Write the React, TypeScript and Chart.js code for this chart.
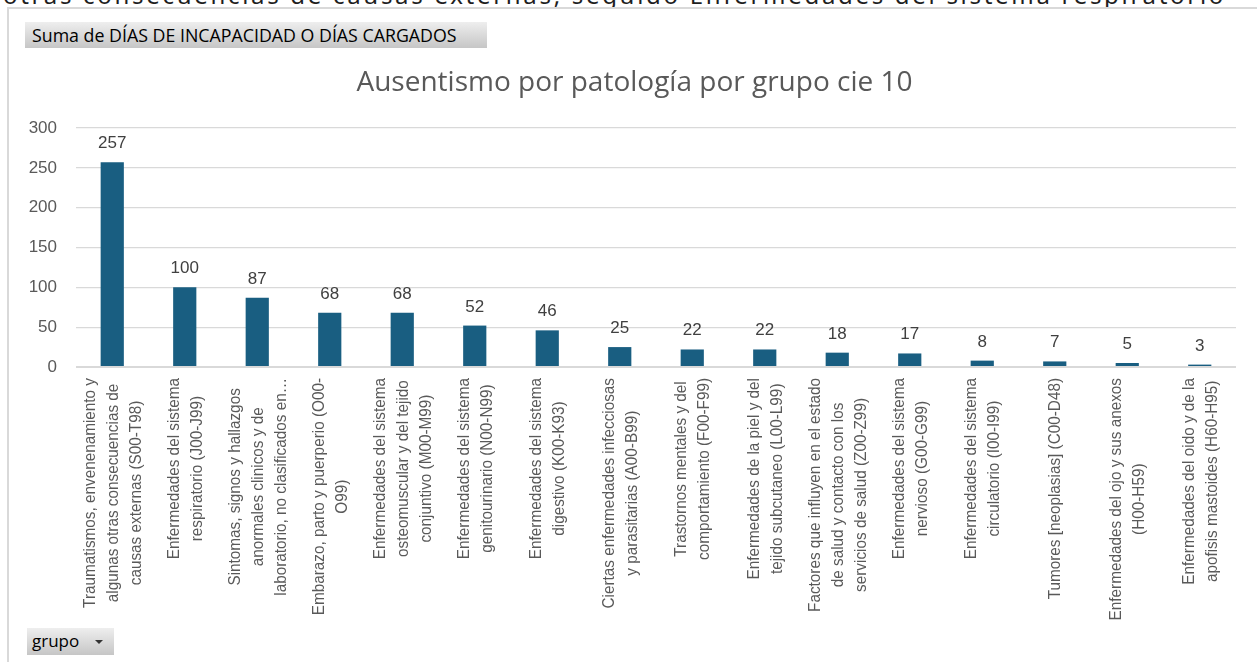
import React, { useEffect, useRef } from "react";
import { Chart, registerables } from "chart.js";

Chart.register(...registerables);

// ---------- data ----------
const categories: string[][] = [
  ["Traumatismos, envenenamiento y", "algunas otras consecuencias de", "causas externas (S00-T98)"],
  ["Enfermedades del sistema", "respiratorio (J00-J99)"],
  ["Sintomas, signos y hallazgos", "anormales clinicos y de", "laboratorio, no clasificados en…"],
  ["Embarazo, parto y puerperio (O00-", "O99)"],
  ["Enfermedades del sistema", "osteomuscular y del tejido", "conjuntivo (M00-M99)"],
  ["Enfermedades del sistema", "genitourinario (N00-N99)"],
  ["Enfermedades del sistema", "digestivo (K00-K93)"],
  ["Ciertas enfermedades infecciosas", "y parasitarias (A00-B99)"],
  ["Trastornos mentales y del", "comportamiento (F00-F99)"],
  ["Enfermedades de la piel y del", "tejido subcutaneo (L00-L99)"],
  ["Factores que influyen en el estado", "de salud y contacto con los", "servicios de salud (Z00-Z99)"],
  ["Enfermedades del sistema", "nervioso (G00-G99)"],
  ["Enfermedades del sistema", "circulatorio (I00-I99)"],
  ["Tumores [neoplasias] (C00-D48)"],
  ["Enfermedades del ojo y sus anexos", "(H00-H59)"],
  ["Enfermedades del oido y de la", "apofisis mastoides (H60-H95)"],
];
const values: number[] = [257, 100, 87, 68, 68, 52, 46, 25, 22, 22, 18, 17, 8, 7, 5, 3];
const yMin = 0;
const yMax = 300;
const yStep = 50;
const chartTitle = "Ausentismo por patología por grupo cie 10";
const fieldButtonText = "Suma de DÍAS DE INCAPACIDAD O DÍAS CARGADOS";
const axisButtonText = "grupo";
const clippedTopText =
  "otras consecuencias de causas externas, seguido Enfermedades del sistema respiratorio";

// ---------- styles ----------
const BAR_COLOR = "#195e81";
const GRID_COLOR = "#d9d9d9";
const TICK_COLOR = "#595959";
const NUM_FONT = "'Liberation Sans', Arial, sans-serif";
const LABEL_FONT = "17px 'Liberation Sans', Arial, sans-serif";
const LABEL_SQUEEZE = 0.9;
const LABEL_LINE = 23;

const titlePlugin = {
  id: "centeredTitle",
  afterDraw(chart: any) {
    const ctx = chart.ctx;
    ctx.save();
    ctx.font = "28px 'Open Sans', sans-serif";
    ctx.fillStyle = TICK_COLOR;
    ctx.textAlign = "center";
    ctx.textBaseline = "middle";
    ctx.fillText(chartTitle, 634.5, 83);
    ctx.restore();
  },
};

const valueLabels = {
  id: "valueLabels",
  afterDatasetsDraw(chart: any) {
    const ctx = chart.ctx;
    const meta = chart.getDatasetMeta(0);
    ctx.save();
    ctx.font = `17px ${NUM_FONT}`;
    ctx.fillStyle = "#404040";
    ctx.textAlign = "center";
    ctx.textBaseline = "alphabetic";
    meta.data.forEach((el: any, i: number) => {
      const v = chart.data.datasets[0].data[i];
      ctx.fillText(String(v), el.x, el.y - 14);
    });
    ctx.restore();
  },
};

const rotatedLabels = {
  id: "rotatedLabels",
  afterDraw(chart: any) {
    const scale = chart.scales.x;
    const ctx = chart.ctx;
    ctx.save();
    ctx.font = LABEL_FONT;
    ctx.fillStyle = TICK_COLOR;
    ctx.textAlign = "center";
    ctx.textBaseline = "middle";
    const top = chart.chartArea.bottom + 11;
    (chart.data.labels as string[][]).forEach((lines, i) => {
      const x = scale.getPixelForValue(i) + 1;
      const w = Math.max(...lines.map((l) => ctx.measureText(l).width)) * LABEL_SQUEEZE;
      lines.forEach((line, j) => {
        const cx = x + (j - (lines.length - 1) / 2) * LABEL_LINE;
        ctx.save();
        ctx.translate(cx, top + w / 2);
        ctx.rotate(-Math.PI / 2);
        ctx.scale(LABEL_SQUEEZE, 1);
        ctx.fillText(line, 0, 0);
        ctx.restore();
      });
    });
    ctx.restore();
  },
};

function BarChart() {
  const ref = useRef<HTMLCanvasElement | null>(null);
  useEffect(() => {
    if (!ref.current) return;
    const chart = new Chart(ref.current, {
      type: "bar",
      data: {
        labels: categories as any,
        datasets: [
          {
            data: values,
            backgroundColor: BAR_COLOR,
            barPercentage: 0.32,
            categoryPercentage: 1,
          },
        ],
      },
      options: {
        animation: false,
        responsive: true,
        maintainAspectRatio: false,
        layout: { padding: { top: 128, left: 0, right: 21, bottom: 295 } },
        plugins: {
          legend: { display: false },
          tooltip: { enabled: false },
          title: { display: false },
        },
        scales: {
          x: {
            ticks: { display: false },
            grid: { display: false },
            border: { display: false },
            afterFit: (s: any) => {
              s.height = 0;
            },
          },
          y: {
            min: yMin,
            max: yMax,
            ticks: {
              stepSize: yStep,
              color: TICK_COLOR,
              font: { family: NUM_FONT, size: 17 },
              padding: 19,
            },
            grid: {
              color: GRID_COLOR,
              lineWidth: (c: any) => (c.tick && c.tick.value === 0 ? 2 : 1.2),
              drawTicks: false,
            },
            border: { display: false },
            afterFit: (s: any) => {
              s.width = 76;
            },
          },
        },
      },
      plugins: [valueLabels, rotatedLabels, titlePlugin],
    });
    return () => chart.destroy();
  }, []);
  return (
    <div style={{ position: "absolute", left: 0, top: 0, width: 1257, height: 662 }}>
      <canvas ref={ref} />
    </div>
  );
}

export default function App() {
  return (
    <div
      style={{
        position: "absolute",
        left: 0,
        top: 0,
        width: 1257,
        height: 662,
        overflow: "hidden",
        background: "#ffffff",
      }}
    >
      <div
        style={{
          position: "absolute",
          left: 3,
          top: -17,
          whiteSpace: "nowrap",
          fontFamily: "'Noto Sans', sans-serif",
          fontSize: 24,
          lineHeight: "24px",
          letterSpacing: "2.7px",
          color: "#1e1e1e",
        }}
      >
        {clippedTopText}
      </div>
      <div
        style={{
          position: "absolute",
          left: 7,
          top: 7,
          right: -10,
          bottom: -10,
          borderLeft: "2px solid #d9d9d9",
          borderTop: "2px solid #d9d9d9",
          background: "#ffffff",
        }}
      />
      <BarChart />
      <div
        style={{
          position: "absolute",
          left: 25,
          top: 22,
          width: 462,
          height: 26,
          boxSizing: "border-box",
          paddingLeft: 7,
          background: "linear-gradient(#eeeeee, #c6c6c6)",
          fontFamily: "'Open Sans', sans-serif",
          fontSize: 17.8,
          lineHeight: "26px",
          color: "#000",
          whiteSpace: "nowrap",
          overflow: "hidden",
        }}
      >
        {fieldButtonText}
      </div>
      <div
        style={{
          position: "absolute",
          left: 27,
          top: 628,
          width: 87,
          height: 27,
          boxSizing: "border-box",
          paddingLeft: 5,
          background: "linear-gradient(#eeeeee, #c6c6c6)",
          fontFamily: "'Open Sans', sans-serif",
          fontSize: 17,
          lineHeight: "26px",
          color: "#000",
          whiteSpace: "nowrap",
        }}
      >
        {axisButtonText}
        <span
          style={{
            position: "absolute",
            left: 68,
            top: 12,
            width: 0,
            height: 0,
            borderLeft: "4px solid transparent",
            borderRight: "4px solid transparent",
            borderTop: "4px solid #333",
          }}
        />
      </div>
    </div>
  );
}
